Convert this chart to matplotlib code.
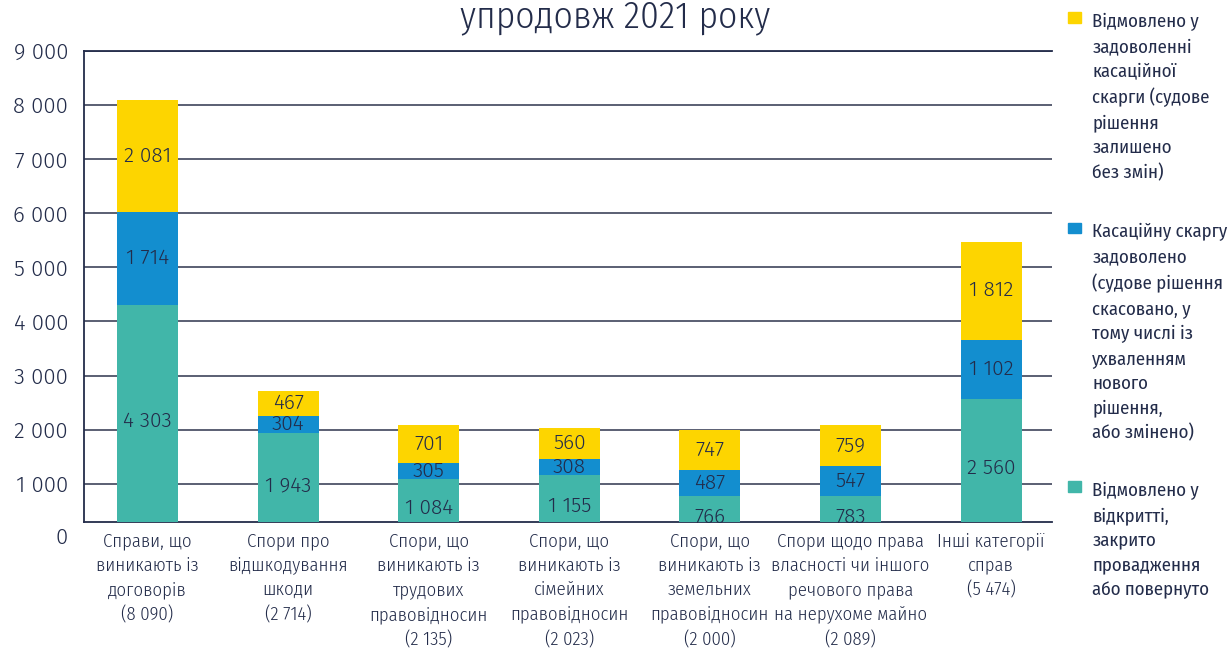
import matplotlib
matplotlib.use('Agg')
import matplotlib.pyplot as plt
import matplotlib.transforms as mtransforms
import numpy as np
from matplotlib.patches import Rectangle

# категорії справ (підписи осі X)
categories = [
    'Справи, що\nвиникають із\nдоговорів\n(8 090)',
    'Спори про\nвідшкодування\nшкоди\n(2 714)',
    'Спори, що\nвиникають із\nтрудових\nправовідносин\n(2 135)',
    'Спори, що\nвиникають із\nсімейних\nправовідносин\n(2 023)',
    'Спори, що\nвиникають із\nземельних\nправовідносин\n(2 000)',
    'Спори щодо права\nвласності чи іншого\nречового права\nна нерухоме майно\n(2 089)',
    'Інші категорії\nсправ\n(5 474)',
]

refused_open = [4303, 1943, 1084, 1155, 766, 783, 2560]
satisfied = [1714, 304, 305, 308, 487, 547, 1102]
refused_satisfy = [2081, 467, 701, 560, 747, 759, 1812]

legend_labels = [
    'Відмовлено у\nзадоволенні\nкасаційної\nскарги (судове\nрішення\nзалишено\nбез змін)',
    'Касаційну скаргу\nзадоволено\n(судове рішення\nскасовано, у\nтому числі із\nухваленням\nнового\nрішення,\nабо змінено)',
    'Відмовлено у\nвідкритті,\nзакрито\nпровадження\nабо повернуто',
]

yticks = [1000, 2000, 3000, 4000, 5000, 6000, 7000, 8000, 9000]

GREEN = '#41b6a9'
BLUE = '#138ecf'
YELLOW = '#fdd500'
NAVY = '#232c4a'
GRID = '#4d5368'

COND = ['Fira Sans Condensed', 'Roboto', 'DejaVu Sans']
NUM = ['Fira Sans', 'Roboto', 'DejaVu Sans']


def fmt(v):
    # пробіл як роздільник тисяч
    return f'{v:,}'.replace(',', ' ')


fig = plt.figure(figsize=(12.28, 6.49), dpi=100)
ax = fig.add_axes([0.0684, 0.1957, 0.7883, 0.7262])

x = np.arange(len(categories))
width = 0.434
green = np.array(refused_open)
blue = np.array(satisfied)
yellow = np.array(refused_satisfy)

ax.bar(x, green, width, color=GREEN, zorder=3)
ax.bar(x, blue, width, bottom=green, color=BLUE, zorder=3)
ax.bar(x, yellow, width, bottom=green + blue, color=YELLOW, zorder=3)

# підписи значень у сегментах
for i in range(len(x)):
    bases = [0, green[i], green[i] + blue[i]]
    vals = [green[i], blue[i], yellow[i]]
    for b, v in zip(bases, vals):
        ax.text(x[i], b + v / 2, fmt(v), ha='center', va='center',
                fontsize=15, color=NAVY, family=NUM, weight=300, zorder=4)

ax.set_xlim(-0.452, 6.434)
ax.set_ylim(295, 9000)
ax.set_yticks(yticks)
ax.set_yticklabels([fmt(t) for t in yticks], family=NUM, weight=300,
                   fontsize=16, color=NAVY)
ax.tick_params(axis='y', length=0, pad=11.5)
ax.set_xticks([])
ax.grid(axis='y', color=GRID, linewidth=1.3, zorder=0)
# нуль нижче видимої осі, як в оригіналі
ax.text(-0.0165, 0, '0', transform=ax.get_yaxis_transform(), ha='right', va='center',
        fontsize=16, color=NAVY, family=NUM, weight=300, clip_on=False)

for s in ['left', 'bottom', 'top']:
    ax.spines[s].set_color(NAVY)
    ax.spines[s].set_linewidth(1.3)
ax.spines['right'].set_visible(False)

xfig = mtransforms.blended_transform_factory(ax.transData, fig.transFigure)
for i, lab in enumerate(categories):
    ax.text(x[i], 1 - 531.8 / 649, lab, transform=xfig, ha='center', va='top',
            fontsize=13.5, color=NAVY, family=COND, weight=300, linespacing=1.49,
            clip_on=False)

fig.text(0.501, 1 - 27 / 649, 'упродовж 2021 року', ha='center', va='baseline',
         fontsize=27, color=NAVY, family=COND, weight=300)

# легенда праворуч
leg_colors = [YELLOW, BLUE, GREEN]
leg_base = [27, 237.3, 496]
for c, lab, b in zip(leg_colors, legend_labels, leg_base):
    yb = 1 - b / 649
    fig.patches.append(Rectangle((1068.3 / 1228, yb + 4 / 649), 12.4 / 1228, 10.6 / 649,
                                 transform=fig.transFigure, color=c, figure=fig))
    fig.text(1092.3 / 1228, 1 - (b - 13.9) / 649, lab, ha='left', va='top', fontsize=13.5,
             color=NAVY, family=COND, linespacing=1.485)

fig.savefig('out.png', dpi=100)
